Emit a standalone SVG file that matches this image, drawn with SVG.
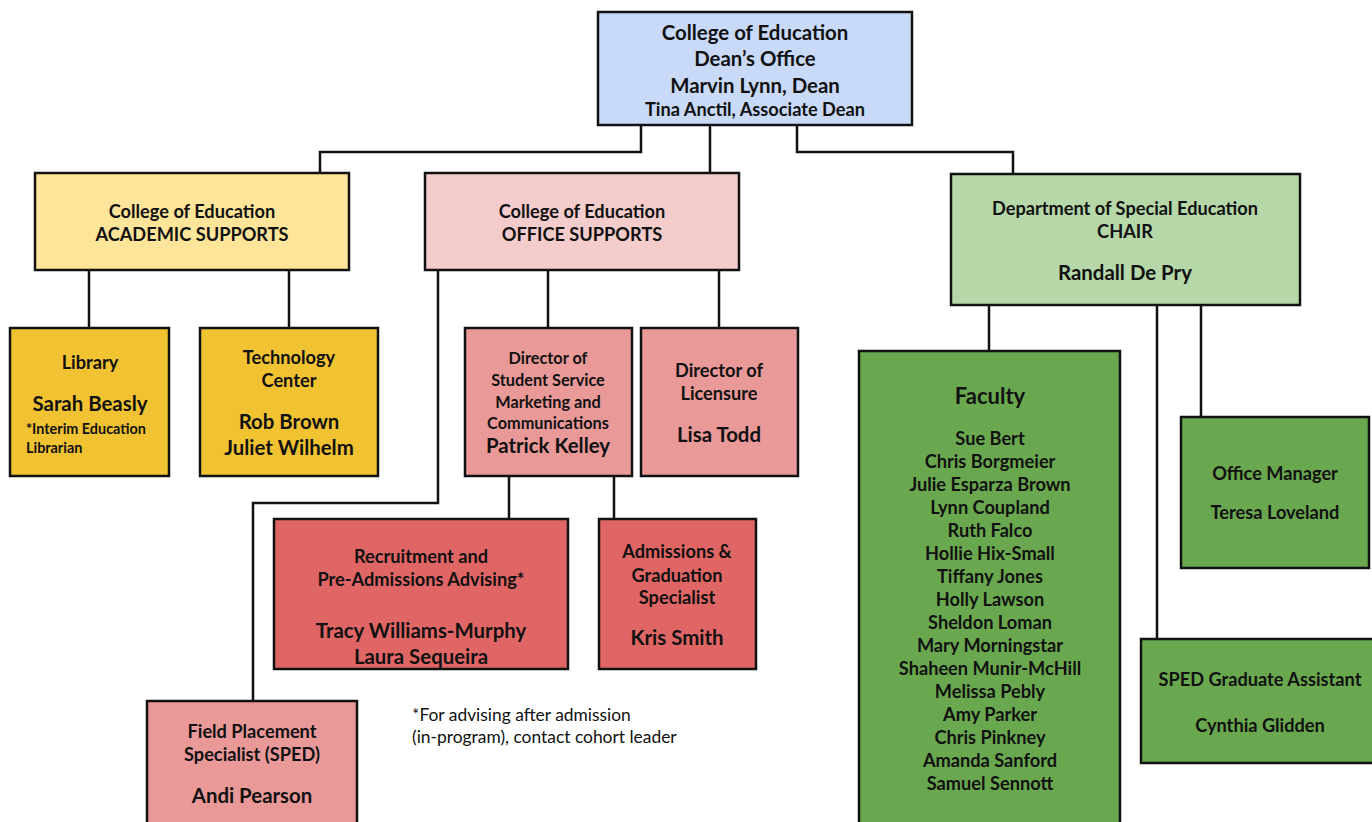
<svg xmlns="http://www.w3.org/2000/svg" width="1372" height="822" viewBox="0 0 1372 822">
<style>
.b{stroke:#111;stroke-width:2.5}
.c{fill:none;stroke:#111;stroke-width:2.5}
text{font-family:Lato,"Liberation Sans",sans-serif;font-weight:bold;fill:#111;text-anchor:middle;dominant-baseline:central}
.s16{font-size:16.3px}.s18{font-size:18.2px}.s20{font-size:20.4px}.s22{font-size:22px}
.n{font-weight:normal;text-anchor:start;font-size:17.4px}
.sm{font-size:14.4px;text-anchor:start}
</style>
<g id="connectors">
<path class="c" d="M641 125V152H320V174"/>
<path class="c" d="M710 125V174"/>
<path class="c" d="M797 125V152H1013V174"/>
<path class="c" d="M89 270V328"/>
<path class="c" d="M289 270V328"/>
<path class="c" d="M438 270V503H253V701"/>
<path class="c" d="M548 270V328"/>
<path class="c" d="M719 270V328"/>
<path class="c" d="M509 476V519"/>
<path class="c" d="M614 476V519"/>
<path class="c" d="M989 305V351"/>
<path class="c" d="M1157 305V639"/>
<path class="c" d="M1201 305V417"/>
</g>
<g id="dean">
<rect class="b" x="598" y="12" width="314" height="113" fill="#c9daf8"/>
<text x="755" y="32" class="s20">College of Education</text>
<text x="755" y="58" class="s20">Dean’s Office</text>
<text x="755" y="85" class="s20">Marvin Lynn, Dean</text>
<text x="755" y="109" class="s18">Tina Anctil, Associate Dean</text>
</g>
<g id="academic">
<rect class="b" x="35" y="173" width="314" height="97" fill="#ffe599"/>
<text x="192" y="211" class="s18">College of Education</text>
<text x="192" y="234" class="s18">ACADEMIC SUPPORTS</text>
</g>
<g id="office">
<rect class="b" x="425" y="173" width="314" height="97" fill="#f4cccc"/>
<text x="582" y="211" class="s18">College of Education</text>
<text x="582" y="234" class="s18">OFFICE SUPPORTS</text>
</g>
<g id="chair">
<rect class="b" x="951" y="174" width="349" height="131" fill="#b6d7a8"/>
<text x="1125" y="208" class="s18">Department of Special Education</text>
<text x="1125" y="231" class="s18">CHAIR</text>
<text x="1125" y="272" class="s20">Randall De Pry</text>
</g>
<g id="library">
<rect class="b" x="10" y="328" width="159" height="148" fill="#f1c232"/>
<text x="90" y="362" class="s18">Library</text>
<text x="90" y="403" class="s20">Sarah Beasly</text>
<text x="26" y="428" class="sm">*Interim Education</text>
<text x="26" y="447" class="sm">Librarian</text>
</g>
<g id="tech">
<rect class="b" x="200" y="328" width="178" height="148" fill="#f1c232"/>
<text x="289" y="357" class="s18">Technology</text>
<text x="289" y="380" class="s18">Center</text>
<text x="289" y="421" class="s20">Rob Brown</text>
<text x="289" y="447" class="s20">Juliet Wilhelm</text>
</g>
<g id="director-ss">
<rect class="b" x="465" y="328" width="167" height="148" fill="#ea9999"/>
<text x="548" y="357" class="s16">Director of</text>
<text x="548" y="379" class="s16">Student Service</text>
<text x="548" y="401" class="s16">Marketing and</text>
<text x="548" y="422" class="s16">Communications</text>
<text x="548" y="445" class="s20">Patrick Kelley</text>
</g>
<g id="licensure">
<rect class="b" x="641" y="328" width="157" height="148" fill="#ea9999"/>
<text x="719" y="370" class="s18">Director of</text>
<text x="719" y="393" class="s18">Licensure</text>
<text x="719" y="434" class="s20">Lisa Todd</text>
</g>
<g id="recruitment">
<rect class="b" x="274" y="519" width="294" height="150" fill="#e06666"/>
<text x="421" y="556" class="s18">Recruitment and</text>
<text x="421" y="579" class="s18">Pre-Admissions Advising*</text>
<text x="421" y="630" class="s20">Tracy Williams-Murphy</text>
<text x="421" y="656" class="s20">Laura Sequeira</text>
</g>
<g id="admissions">
<rect class="b" x="599" y="519" width="157" height="150" fill="#e06666"/>
<text x="677" y="551" class="s18">Admissions &amp;</text>
<text x="677" y="575" class="s18">Graduation</text>
<text x="677" y="597" class="s18">Specialist</text>
<text x="677" y="637" class="s20">Kris Smith</text>
</g>
<g id="field">
<rect class="b" x="147" y="701" width="210" height="140" fill="#ea9999"/>
<text x="252" y="731" class="s18">Field Placement</text>
<text x="252" y="754" class="s18">Specialist (SPED)</text>
<text x="252" y="795" class="s20">Andi Pearson</text>
</g>
<g id="footnote">
<text x="412" y="714" class="n">*For advising after admission</text>
<text x="412" y="736" class="n">(in-program), contact cohort leader</text>
</g>
<g id="faculty">
<rect class="b" x="859" y="351" width="261" height="500" fill="#6aa84f"/>
<text x="990" y="395" class="s22">Faculty</text>
<text x="990" y="438" class="s18">Sue Bert</text>
<text x="990" y="461" class="s18">Chris Borgmeier</text>
<text x="990" y="484" class="s18">Julie Esparza Brown</text>
<text x="990" y="507" class="s18">Lynn Coupland</text>
<text x="990" y="530" class="s18">Ruth Falco</text>
<text x="990" y="553" class="s18">Hollie Hix-Small</text>
<text x="990" y="576" class="s18">Tiffany Jones</text>
<text x="990" y="599" class="s18">Holly Lawson</text>
<text x="990" y="622" class="s18">Sheldon Loman</text>
<text x="990" y="645" class="s18">Mary Morningstar</text>
<text x="990" y="668" class="s18">Shaheen Munir-McHill</text>
<text x="990" y="691" class="s18">Melissa Pebly</text>
<text x="990" y="714" class="s18">Amy Parker</text>
<text x="990" y="737" class="s18">Chris Pinkney</text>
<text x="990" y="760" class="s18">Amanda Sanford</text>
<text x="990" y="783" class="s18">Samuel Sennott</text>
</g>
<g id="office-manager">
<rect class="b" x="1181" y="417" width="188" height="151" fill="#6aa84f"/>
<text x="1275" y="473" class="s18">Office Manager</text>
<text x="1275" y="512" class="s18">Teresa Loveland</text>
</g>
<g id="sped-ga">
<rect class="b" x="1141" y="639" width="250" height="124" fill="#6aa84f"/>
<text x="1260" y="679" class="s18">SPED Graduate Assistant</text>
<text x="1260" y="725" class="s18">Cynthia Glidden</text>
</g>
</svg>
